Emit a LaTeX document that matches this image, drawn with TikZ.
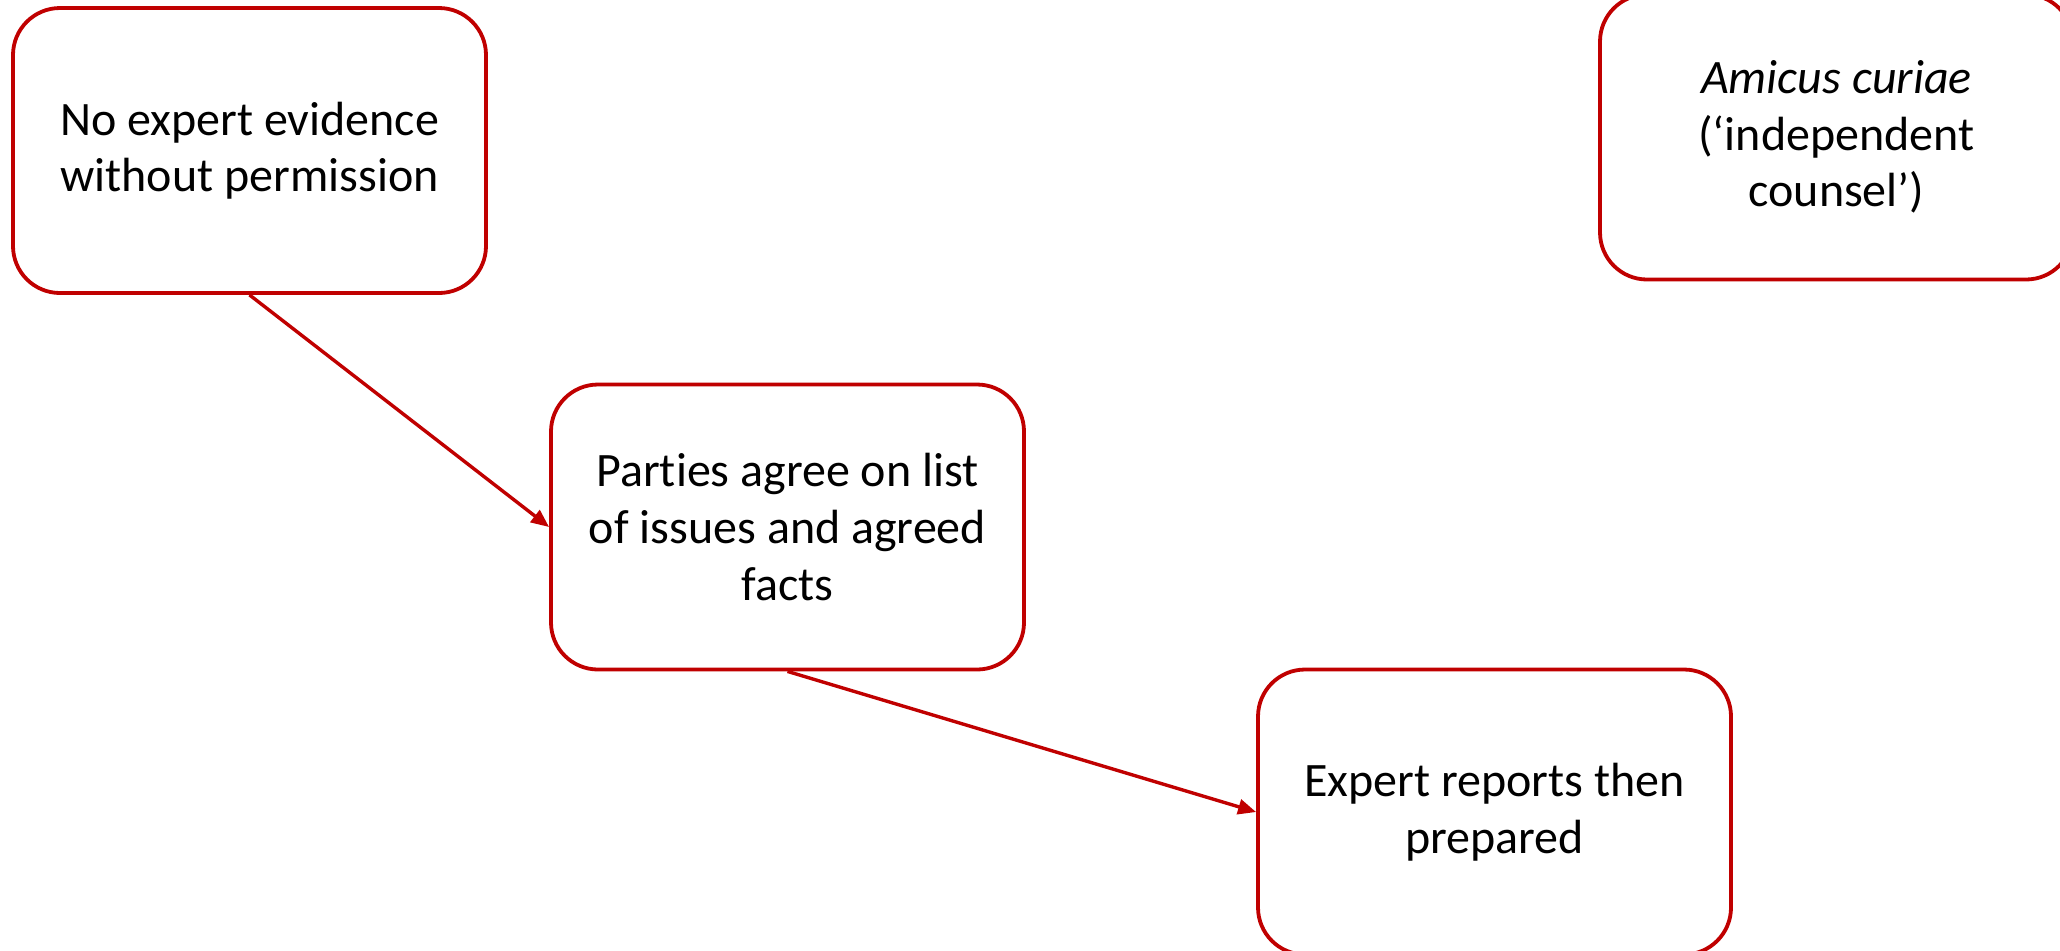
\documentclass[tikz,border=0pt]{standalone}
\usepackage{fontspec}
\setmainfont{Carlito}[Ligatures=NoCommon]
\usetikzlibrary{arrows.meta}
\definecolor{boxred}{RGB}{192,0,0}
\begin{document}
\begin{tikzpicture}[x=0.5pt,y=-0.5pt,
  stagebox/.style={draw=boxred, line width=1.9pt, rounded corners=23.5pt, fill=white,
    minimum width=236.5pt, minimum height=142.5pt, align=center,
    inner sep=0pt, font=\fontsize{24pt}{28.3pt}\selectfont},
  flow/.style={draw=boxred, line width=1.7pt, -{Triangle[length=9pt,width=7.5pt]}}]
\useasboundingbox (0,0) rectangle (2060,950);
\clip (0,0) rectangle (2060,950);
\fill[white] (0,0) rectangle (2060,950);
\node[stagebox] (b1) at (249.5,150.5) {No expert evidence\\without permission};
\node[stagebox] (b2) at (787.5,527) {Parties agree on list\\of issues and agreed\\facts};
\node[stagebox] (b3) at (1494.5,812) {Expert reports then\\prepared};
\node[stagebox] (b4) at (1836.5,137) {\textit{Amicus curiae}\\(‘independent\\counsel’)};
\draw[flow] (b1.south) -- (b2.west);
\draw[flow] (b2.south) -- (b3.west);
\end{tikzpicture}
\end{document}
